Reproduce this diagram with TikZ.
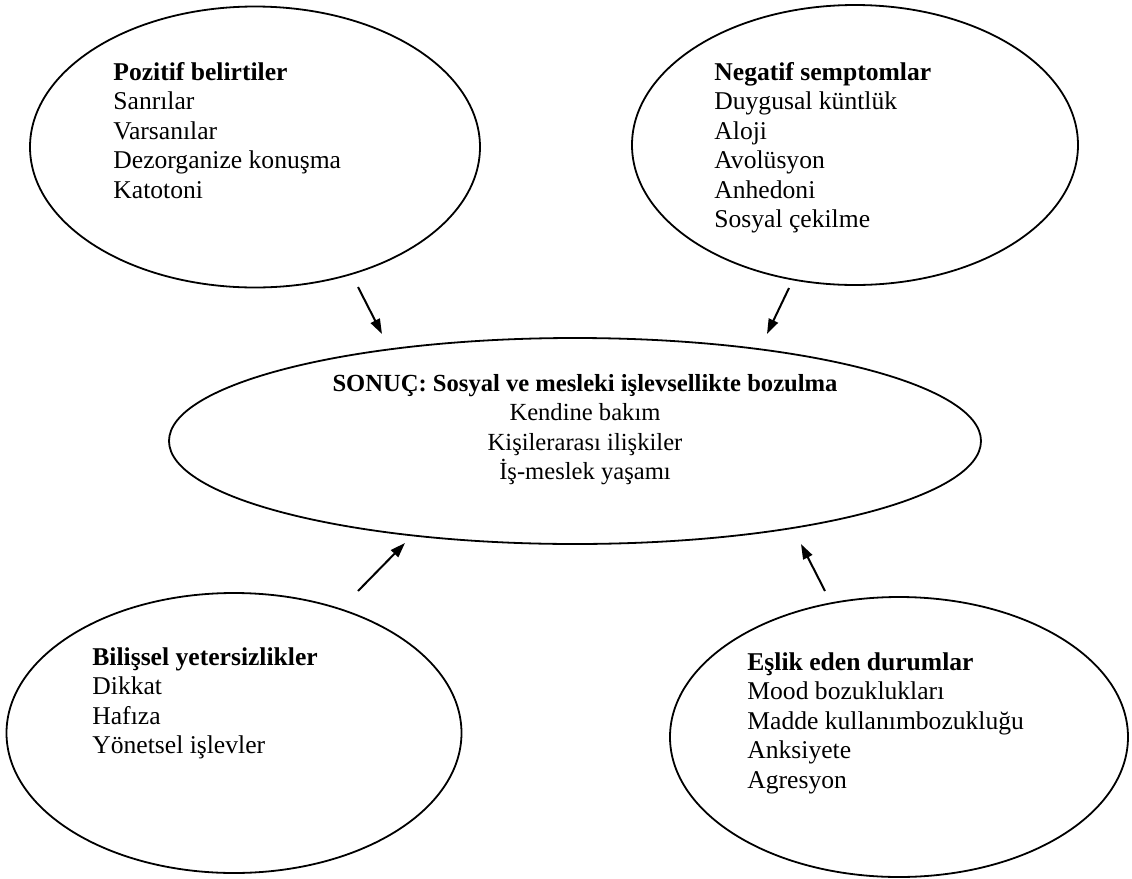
\documentclass[tikz,border=0pt]{standalone}
\usepackage{fontspec}
\setmainfont{Liberation Serif}
\usetikzlibrary{shapes.geometric,arrows.meta}
\tikzset{
  bubble/.style={draw, ellipse, line width=0.9pt, inner sep=0pt},
  liste/.style={inner sep=0pt, font=\fontsize{12.8}{14.75}\selectfont},
  ok/.style={-{Triangle[length=7.5pt,width=5pt]}, line width=1pt}
}
\newcommand{\satirlar}[1]{\begin{tabular}[t]{@{}l@{}}#1\end{tabular}}
\newcommand{\ortasatir}[1]{\begin{tabular}[t]{@{}c@{}}#1\end{tabular}}
\begin{document}
\begin{tikzpicture}[x=0.5pt, y=-0.5pt]
   \useasboundingbox (0,0) rectangle (1132,879);
   % baloncuklar
   \node[bubble, minimum width=225pt, minimum height=140.5pt] (pozitif) at (255,147) {};
   \node[bubble, minimum width=223pt, minimum height=140pt] (negatif) at (855,145) {};
   \node[bubble, minimum width=406pt, minimum height=103pt] (sonuc) at (575,441) {};
   \node[bubble, minimum width=227.5pt, minimum height=140pt] (bilissel) at (234,733) {};
   \node[bubble, minimum width=229pt, minimum height=140pt] (eslik) at (899,737) {};
   % yazilar
   \node[liste, anchor=base west] (pozitiftxt) at (113,80) {\satirlar{\textbf{Pozitif belirtiler}\\
      Sanrılar\\ Varsanılar\\ Dezorganize konuşma\\ Katotoni}};
   \node[liste, anchor=base west] (negatiftxt) at (714,80) {\satirlar{\textbf{Negatif semptomlar}\\
      Duygusal küntlük\\ Aloji\\ Avolüsyon\\ Anhedoni\\ Sosyal çekilme}};
   \node[liste, font=\fontsize{12.3}{14.75}\selectfont, anchor=base] (sonuctxt) at (585,391) {\ortasatir{\textbf{SONUÇ: Sosyal ve mesleki işlevsellikte bozulma}\\
      Kendine bakım\\ Kişilerarası ilişkiler\\ İş-meslek yaşamı}};
   \node[liste, anchor=base west] (bilisseltxt) at (92,665) {\satirlar{\textbf{Bilişsel yetersizlikler}\\
      Dikkat\\ Hafıza\\ Yönetsel işlevler}};
   \node[liste, anchor=base west] (esliktxt) at (747,670) {\satirlar{\textbf{Eşlik eden durumlar}\\
      Mood bozuklukları\\ Madde kullanımbozukluğu\\ Anksiyete\\ Agresyon}};
   % oklar
   \coordinate (o1) at (358,287); \coordinate (u1) at (382,334);
   \coordinate (o2) at (789,288); \coordinate (u2) at (767,334);
   \coordinate (o3) at (358,591); \coordinate (u3) at (405,543);
   \coordinate (o4) at (825,591); \coordinate (u4) at (801,544);
   \draw[ok] (o1) -- (u1);
   \draw[ok] (o2) -- (u2);
   \draw[ok] (o3) -- (u3);
   \draw[ok] (o4) -- (u4);
\end{tikzpicture}
\end{document}
